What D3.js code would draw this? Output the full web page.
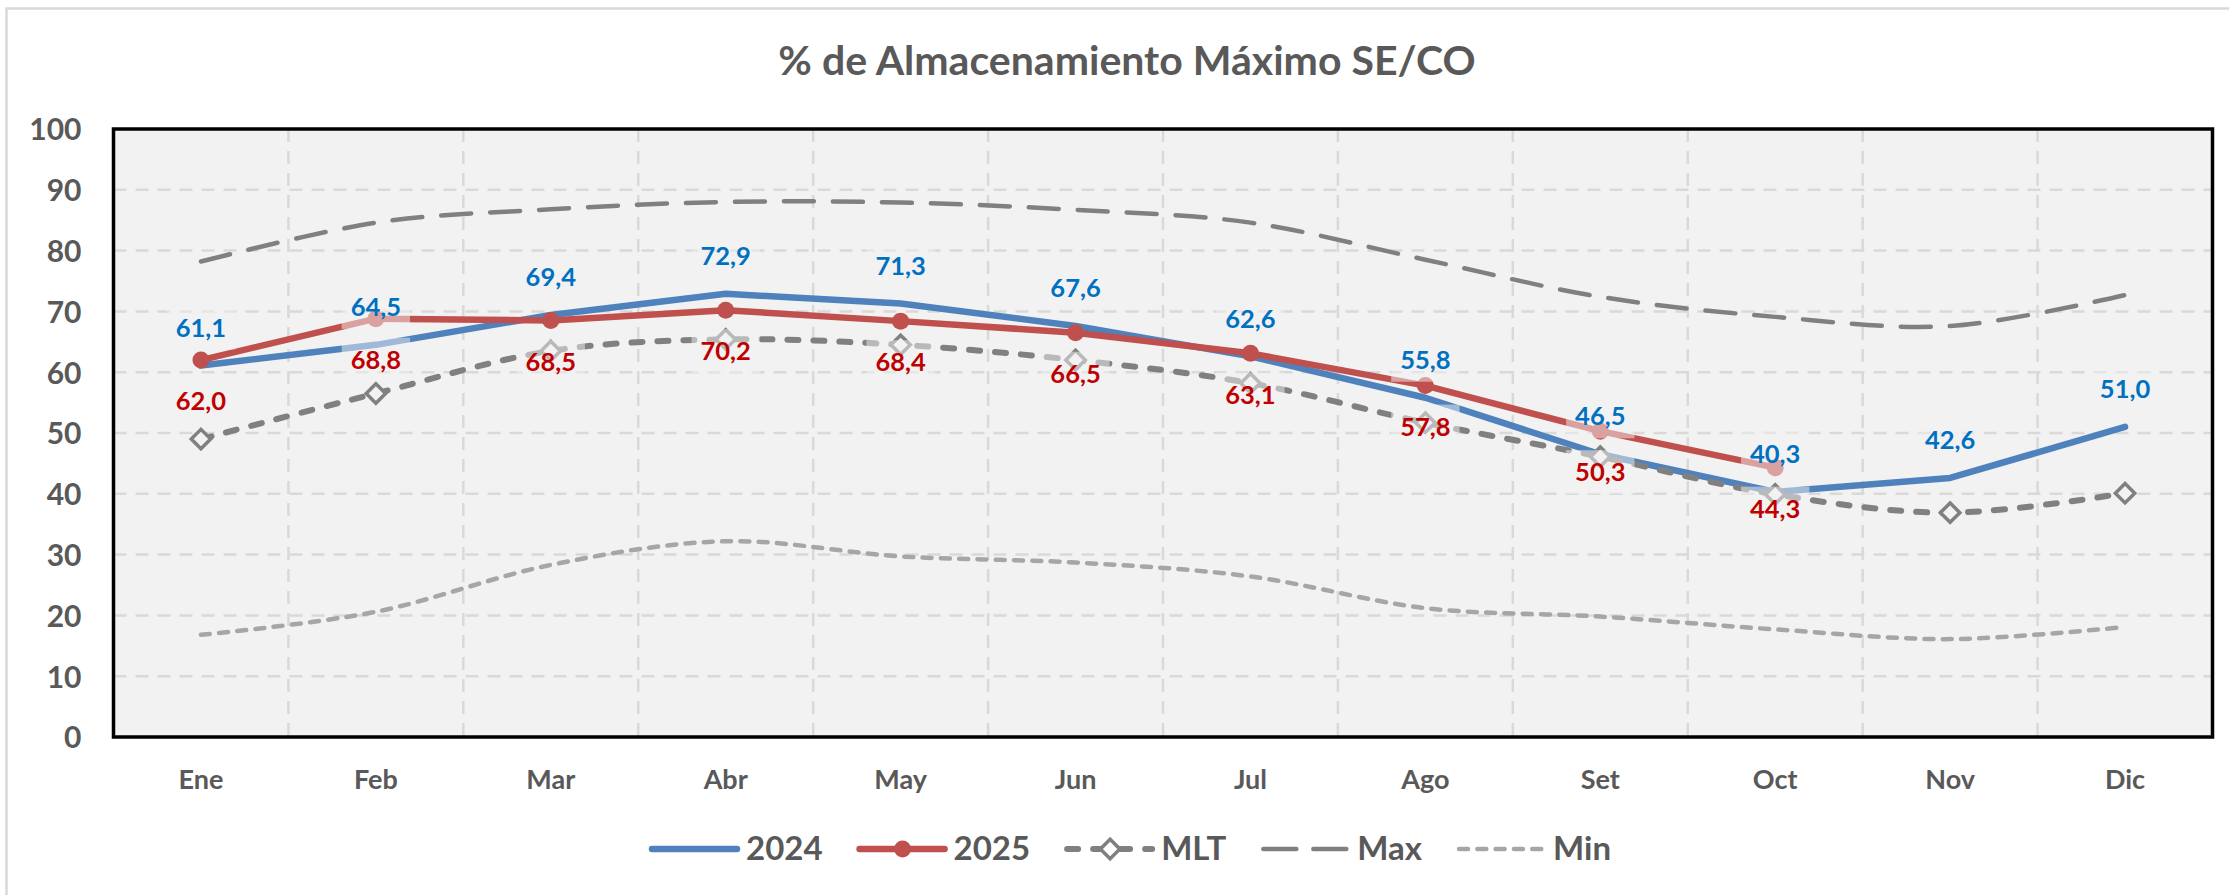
<!DOCTYPE html>
<html>
<head>
<meta charset="utf-8">
<script src="https://cdn.jsdelivr.net/npm/d3@7"></script>
<style>
  html, body { margin: 0; padding: 0; background: #ffffff; }
  svg { display: block; }
  text { font-family: "Lato", "Open Sans", sans-serif; font-weight: 700; }
</style>
</head>
<body>
<svg id="chart" width="2229" height="895"></svg>
<script>
// Months on the category axis
const months = ["Ene", "Feb", "Mar", "Abr", "May", "Jun", "Jul", "Ago", "Set", "Oct", "Nov", "Dic"];

// % of maximum storage, SE/CO subsystem
const serie2024 = [61.1, 64.5, 69.4, 72.9, 71.3, 67.6, 62.6, 55.8, 46.5, 40.3, 42.6, 51.0];
const serie2025 = [62.0, 68.8, 68.5, 70.2, 68.4, 66.5, 63.1, 57.8, 50.3, 44.3];
const serieMLT  = [49.0, 56.5, 63.5, 65.4, 64.5, 62.0, 58.2, 51.7, 46.1, 39.9, 36.9, 40.1];
const serieMax  = [78.2, 84.6, 86.8, 88.0, 87.9, 86.7, 84.6, 78.5, 72.4, 69.1, 67.6, 72.7];
const serieMin  = [16.8, 20.6, 28.3, 32.2, 29.7, 28.7, 26.4, 21.2, 19.8, 17.7, 16.1, 18.1];

const yTicks = [0, 10, 20, 30, 40, 50, 60, 70, 80, 90, 100];
const legendNames = ["2024", "2025", "MLT", "Max", "Min"];
const titleText = "% de Almacenamiento Máximo SE/CO";

const svg = d3.select("#chart");
const plot = { left: 113.5, right: 2212.5, top: 129, bottom: 737 };

const x = d3.scaleBand().domain(months).range([plot.left, plot.right]);
const y = d3.scaleLinear().domain([0, 100]).range([plot.bottom, plot.top]);
const cx = m => x(m) + x.bandwidth() / 2;

const textGray = "#595959";
const plotFill = "#f2f2f2";

// outer chart frame
svg.append("rect")
  .attr("x", 6.5).attr("y", 8.5)
  .attr("width", 2300).attr("height", 1000)
  .attr("fill", "none").attr("stroke", "#d9d9d9").attr("stroke-width", 2.5);

// title
svg.append("text")
  .attr("x", 1127).attr("y", 75)
  .attr("text-anchor", "middle")
  .attr("font-size", 41)
  .attr("fill", textGray)
  .text(titleText);

// plot background
svg.append("rect")
  .attr("x", plot.left).attr("y", plot.top)
  .attr("width", plot.right - plot.left).attr("height", plot.bottom - plot.top)
  .attr("fill", plotFill);

// gridlines
const grid = svg.append("g").attr("stroke", "#d9d9d9").attr("stroke-width", 2.5)
  .attr("stroke-dasharray", "13,9");
grid.selectAll("line.h").data(yTicks.filter(v => v > 0 && v < 100)).join("line")
  .attr("class", "h")
  .attr("x1", plot.left).attr("x2", plot.right)
  .attr("y1", d => y(d)).attr("y2", d => y(d));
grid.selectAll("line.v").data(months.slice(1)).join("line")
  .attr("class", "v")
  .attr("x1", d => x(d)).attr("x2", d => x(d))
  .attr("y1", plot.top).attr("y2", plot.bottom);

// axes
const yAxis = svg.append("g")
  .attr("transform", `translate(${plot.left},0)`)
  .call(d3.axisLeft(y).tickValues(yTicks).tickSize(0).tickPadding(32));
yAxis.select(".domain").remove();
yAxis.selectAll("text")
  .attr("font-size", 30).attr("fill", textGray)
  .attr("font-family", "Lato").attr("font-weight", 700)
  .attr("dy", "0.36em");

const xAxis = svg.append("g")
  .attr("transform", `translate(0,${plot.bottom})`)
  .call(d3.axisBottom(x).tickSize(0));
xAxis.select(".domain").remove();
xAxis.selectAll("text")
  .attr("font-size", 27).attr("fill", textGray)
  .attr("font-family", "Lato").attr("font-weight", 700)
  .attr("y", 52).attr("dy", null);

// series styles
const styles = {
  s2024: { color: "#4f81bd", width: 6.5, dash: null, cap: "round" },
  s2025: { color: "#c0504d", width: 6.5, dash: null, cap: "round" },
  mlt:   { color: "#808080", width: 6,   dash: "11,15", cap: "round" },
  max:   { color: "#808080", width: 4.5, dash: "30,19", cap: "round" },
  min:   { color: "#a6a6a6", width: 4.5, dash: "9,9.3", cap: "round" }
};

const straight = d3.line().x((d, i) => cx(months[i])).y(d => y(d));
const smooth = d3.line().x((d, i) => cx(months[i])).y(d => y(d)).curve(d3.curveCatmullRom.alpha(0));

function drawLine(data, st, gen) {
  svg.append("path")
    .datum(data)
    .attr("d", gen)
    .attr("fill", "none")
    .attr("stroke", st.color)
    .attr("stroke-width", st.width)
    .attr("stroke-linecap", st.cap)
    .attr("stroke-linejoin", "round")
    .attr("stroke-dasharray", st.dash);
}

const diamond = d3.symbol().type(d3.symbolDiamond2).size(240);

// 2024
drawLine(serie2024, styles.s2024, straight);
// 2025 with round markers
drawLine(serie2025, styles.s2025, straight);
svg.append("g").selectAll("circle").data(serie2025).join("circle")
  .attr("cx", (d, i) => cx(months[i])).attr("cy", d => y(d))
  .attr("r", 8.5).attr("fill", styles.s2025.color);
// MLT with hollow diamonds
drawLine(serieMLT, styles.mlt, smooth);
svg.append("g").selectAll("path").data(serieMLT).join("path")
  .attr("d", diamond)
  .attr("transform", (d, i) => `translate(${cx(months[i])},${y(d)})`)
  .attr("fill", plotFill).attr("stroke", "#808080").attr("stroke-width", 3.5);
// Max and Min envelopes
drawLine(serieMax, styles.max, smooth);
drawLine(serieMin, styles.min, smooth);

// plot frame
svg.append("rect")
  .attr("x", plot.left).attr("y", plot.top)
  .attr("width", plot.right - plot.left).attr("height", plot.bottom - plot.top)
  .attr("fill", "none").attr("stroke", "#000").attr("stroke-width", 3.5);

// data labels on translucent boxes in the plot colour
const labelSize = 25.5;
function drawLabels(data, color, offset) {
  const g = svg.append("g");
  data.forEach((v, i) => {
    const px = cx(months[i]);
    const cyText = y(v) + offset;
    const lg = g.append("g");
    const box = lg.append("rect");
    const t = lg.append("text")
      .attr("x", px).attr("y", cyText + labelSize * 0.36)
      .attr("text-anchor", "middle")
      .attr("font-size", labelSize)
      .attr("fill", color)
      .text(d3.format(".1f")(v).replace(".", ","));
    const w = t.node().getComputedTextLength();
    box.attr("x", px - w / 2 - 9).attr("y", cyText - 22)
      .attr("width", w + 18).attr("height", 44)
      .attr("fill", plotFill).attr("fill-opacity", 0.5);
  });
}
drawLabels(serie2024, "#0070c0", -38);
drawLabels(serie2025, "#c00000", 41);

// legend
const legendKeys = ["s2024", "s2025", "mlt", "max", "min"];
const legendY = 849;
let lx = 652;
legendKeys.forEach((k, i) => {
  const st = styles[k];
  const g = svg.append("g");
  g.append("line")
    .attr("x1", lx).attr("x2", lx + 85)
    .attr("y1", legendY).attr("y2", legendY)
    .attr("stroke", st.color).attr("stroke-width", st.width)
    .attr("stroke-linecap", st.cap)
    .attr("stroke-dasharray", k === "max" ? "33,17" : (k === "min" ? "9,9.3" : st.dash));
  if (k === "s2025") {
    g.append("circle").attr("cx", lx + 43).attr("cy", legendY).attr("r", 8.5).attr("fill", st.color);
  }
  if (k === "mlt") {
    g.append("path").attr("d", diamond)
      .attr("transform", `translate(${lx + 43},${legendY})`)
      .attr("fill", "#ffffff").attr("stroke", "#808080").attr("stroke-width", 3.5);
  }
  const t = g.append("text")
    .attr("x", lx + 94).attr("y", legendY + 11)
    .attr("font-size", 33).attr("fill", textGray)
    .text(legendNames[i]);
  lx = lx + 94 + t.node().getComputedTextLength() + 37;
});
</script>
</body>
</html>
